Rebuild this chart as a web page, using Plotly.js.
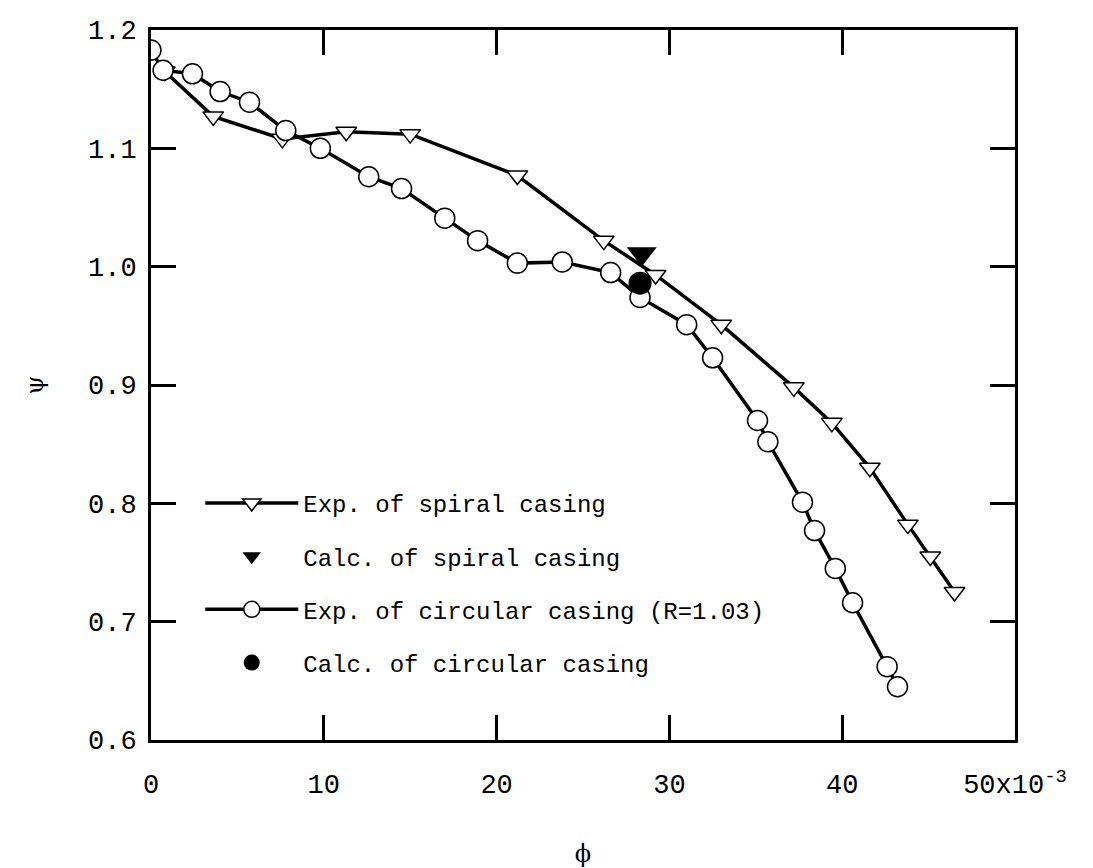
<!DOCTYPE html>
<html>
<head>
<meta charset="utf-8">
<script src="https://cdn.plot.ly/plotly-3.0.1.min.js"></script>
<style>html,body{margin:0;padding:0;background:#fff;}#chart{width:1093px;height:868px;}</style>
</head>
<body>
<div id="chart"></div>
<script>
// Exp. of spiral casing
const spiralX = [0.8, 3.6, 7.6, 11.3, 15.0, 21.2, 26.2, 29.2, 33.0, 37.2, 39.4, 41.6, 43.8, 45.1, 46.5];
const spiralY = [1.165, 1.127, 1.108, 1.114, 1.112, 1.077, 1.022, 0.993, 0.951, 0.898, 0.868, 0.830, 0.782, 0.755, 0.725];
// Calc. of spiral casing
const calcSpiralX = [28.4];
const calcSpiralY = [1.011];
// Exp. of circular casing (R=1.03)
const circX = [0.0, 0.7, 2.4, 4.0, 5.7, 7.8, 9.8, 12.6, 14.5, 17.0, 18.9, 21.2, 23.8, 26.6, 28.3, 31.0, 32.5, 35.1, 35.7, 37.7, 38.4, 39.6, 40.6, 42.6, 43.2];
const circY = [1.183, 1.166, 1.163, 1.148, 1.139, 1.115, 1.100, 1.076, 1.066, 1.041, 1.022, 1.003, 1.004, 0.995, 0.974, 0.951, 0.923, 0.870, 0.852, 0.801, 0.777, 0.745, 0.716, 0.662, 0.645];
// Calc. of circular casing
const calcCircX = [28.3];
const calcCircY = [0.986];

const xTickVals = [0, 10, 20, 30, 40, 50];
const xTickText = ['0', '10', '20', '30', '40', '50x10<sup>-3</sup>'];
const yTickVals = [0.6, 0.7, 0.8, 0.9, 1.0, 1.1, 1.2];
const yTickText = ['0.6', '0.7', '0.8', '0.9', '1.0', '1.1', '1.2'];

const names = ['Exp. of spiral casing', 'Calc. of spiral casing', 'Exp. of circular casing (R=1.03)', 'Calc. of circular casing'];

const FONT = 'Liberation Mono, Courier New, monospace';

const traces = [
  {x: spiralX, y: spiralY, name: names[0], legendgroup: 'a', legendrank: 1, mode: 'lines+markers', type: 'scatter',
   line: {color: '#000', width: 3.5},
   marker: {symbol: 'triangle-down', size: 18, color: '#fff', line: {color: '#000', width: 1.5}}},
  {x: circX, y: circY, name: names[2], legendgroup: 'c', legendrank: 3, mode: 'lines+markers', type: 'scatter',
   line: {color: '#000', width: 3.5},
   marker: {symbol: 'circle', size: 20, color: '#fff', line: {color: '#000', width: 1.5}}},
  {x: calcSpiralX, y: calcSpiralY, name: names[1], legendgroup: 'b', legendrank: 2, mode: 'markers', type: 'scatter',
   marker: {symbol: 'triangle-down', size: 26, color: '#000'}},
  {x: calcCircX, y: calcCircY, name: names[3], legendgroup: 'd', legendrank: 4, mode: 'markers', type: 'scatter',
   marker: {symbol: 'circle', size: 23, color: '#000'}}
];

const layout = {
  width: 1093, height: 868,
  margin: {l: 151, r: 78, t: 30, b: 128},
  paper_bgcolor: '#fff', plot_bgcolor: '#fff',
  font: {family: FONT, color: '#000', size: 22},
  showlegend: true,
  legend: {x: 0.057, y: 0.365, xanchor: 'left', yanchor: 'top', bgcolor: 'rgba(0,0,0,0)',
           font: {family: FONT, size: 24, color: '#000'}, traceorder: 'grouped', tracegroupgap: 19,
           itemwidth: 93},
  xaxis: {range: [0, 50], tickvals: xTickVals, ticktext: xTickText, ticks: 'inside', ticklen: 25, tickwidth: 3,
          tickcolor: '#000', ticklabelstandoff: 18,
          showline: true, linewidth: 3, linecolor: '#000', mirror: 'ticks', showgrid: false, zeroline: false,
          tickfont: {family: FONT, size: 27}, title: {text: 'ϕ', font: {family: 'DejaVu Serif', size: 24}, standoff: 45}},
  yaxis: {range: [0.6, 1.2], tickvals: yTickVals, ticktext: yTickText, ticks: 'inside', ticklen: 25, tickwidth: 3,
          tickcolor: '#000', ticklabelstandoff: 6,
          showline: true, linewidth: 3, linecolor: '#000', mirror: 'ticks', showgrid: false, zeroline: false,
          tickfont: {family: FONT, size: 27}, title: {text: 'ψ', font: {family: 'DejaVu Serif', size: 24}, standoff: 38}}
};

Plotly.newPlot('chart', traces, layout, {displayModeBar: false, staticPlot: true});
</script>
</body>
</html>
